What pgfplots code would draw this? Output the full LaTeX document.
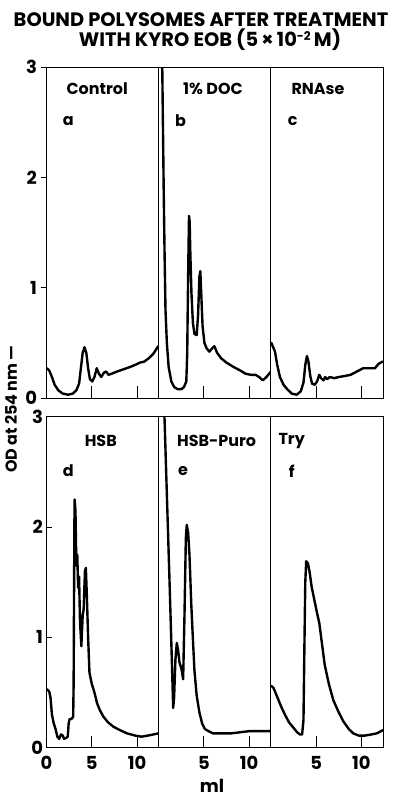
\documentclass[border=0pt]{standalone}
\usepackage{fontspec}
\setmainfont{Poppins}
\usepackage{pgfplots}
\pgfplotsset{compat=1.18}
\newcommand{\lf}{\bfseries\fontsize{16}{17}\selectfont}
\newcommand{\tf}{\bfseries\fontsize{18}{20}\selectfont}
\newcommand{\ttl}{\bfseries\fontsize{19.5}{21}\selectfont}
\newcommand{\yf}{\bfseries\fontsize{16}{18}\selectfont}
\tikzset{curve/.style={black, line width=2.4pt, line join=round, line cap=round}}
\pgfplotsset{
  panel/.style={
    scale only axis, width=112.2bp, height=331bp,
    xmin=0, xmax=12.4, ymin=0, ymax=3,
    axis line style={line width=0.9pt, black},
    xtick={5,10}, xticklabels={}, xtick pos=bottom, tick align=inside,
    major tick length=12bp, ytick=\empty,
    tick style={line width=0.9pt, black},
    anchor=north west,
    /pgf/number format/assume math mode=true,
    tick label style={font=\tf},
    xticklabel style={yshift=-5bp},
    no markers,
  },
  yax/.style={
    scale only axis, width=112.2bp, height=331bp,
    xmin=0, xmax=12.4, ymin=0, ymax=3,
    axis line style={line width=0.9pt, black},
    xtick=\empty, ytick={0,1,2,3}, ytick pos=left,
    major tick length=6bp,
    tick style={line width=0.9pt, black},
    anchor=north west,
    /pgf/number format/assume math mode=true,
    tick label style={font=\tf},
  },
}
\begin{document}
\begin{tikzpicture}
\useasboundingbox (0,0) rectangle (396bp,-798bp);
\node[font=\ttl, anchor=base, inner sep=0pt] at (201bp,-26bp) {BOUND POLYSOMES AFTER TREATMENT};
\node[font=\ttl, anchor=base, inner sep=0pt] at (210bp,-46bp) {WITH KYRO EOB (5\,×\,10\raisebox{5.5bp}{\fontsize{12}{12}\selectfont -2}\,M)};
\node[font=\yf, rotate=90] at (11bp,-409bp) {OD at 254 nm —};
\node[font=\tf, anchor=base, inner sep=0pt] at (212bp,-792bp) {ml};

% ---- top row ----
\begin{axis}[yax, at={(46.5bp,-67bp)}, tick align=outside]
\end{axis}
\begin{axis}[panel, at={(46.5bp,-67bp)}]
\addplot[curve] coordinates {(0.05,0.27)(0.3,0.25)(0.6,0.19)(0.9,0.12)(1.3,0.07)(1.8,0.04)(2.4,0.03)(2.9,0.04)(3.3,0.07)(3.6,0.13)(3.8,0.27)(4.0,0.41)(4.2,0.46)(4.4,0.41)(4.6,0.27)(4.8,0.17)(5.05,0.15)(5.3,0.19)(5.55,0.27)(5.8,0.22)(6.05,0.19)(6.35,0.23)(6.6,0.24)(6.85,0.21)(7.2,0.22)(7.8,0.24)(8.5,0.26)(9.2,0.28)(9.8,0.30)(10.3,0.32)(10.8,0.33)(11.3,0.36)(11.8,0.40)(12.35,0.47)};
\node[font=\lf] at (axis cs:5.6,2.8) {Control};
\node[font=\lf] at (axis cs:2.4,2.51) {a};
\end{axis}
\begin{axis}[panel, at={(158.7bp,-67bp)}]
\addplot[curve] coordinates {(0.35,3.3)(0.45,2.6)(0.55,1.9)(0.65,1.3)(0.75,0.8)(0.9,0.5)(1.1,0.28)(1.4,0.15)(1.7,0.10)(2.1,0.08)(2.5,0.08)(2.8,0.10)(3.05,0.15)(3.15,0.4)(3.25,1.1)(3.35,1.65)(3.42,1.6)(3.5,1.3)(3.62,0.95)(3.78,0.68)(3.95,0.58)(4.2,0.57)(4.35,0.75)(4.5,1.1)(4.6,1.15)(4.7,0.95)(4.85,0.65)(5.05,0.5)(5.3,0.45)(5.6,0.42)(5.9,0.45)(6.15,0.47)(6.45,0.41)(6.9,0.36)(7.5,0.32)(8.3,0.28)(9.0,0.25)(9.6,0.22)(10.2,0.21)(10.7,0.21)(11.1,0.19)(11.5,0.16)(11.9,0.19)(12.4,0.24)};
\node[font=\lf] at (axis cs:6.0,2.8) {1\% DOC};
\node[font=\lf] at (axis cs:2.4,2.51) {b};
\end{axis}
\begin{axis}[panel, at={(270.9bp,-67bp)}]
\addplot[curve] coordinates {(0.05,0.50)(0.25,0.46)(0.45,0.42)(0.7,0.30)(1.0,0.19)(1.4,0.12)(1.8,0.08)(2.3,0.04)(2.85,0.03)(3.3,0.06)(3.6,0.14)(3.8,0.30)(3.98,0.38)(4.15,0.33)(4.35,0.20)(4.55,0.13)(4.85,0.12)(5.1,0.15)(5.35,0.21)(5.55,0.18)(5.8,0.16)(6.0,0.19)(6.2,0.17)(6.5,0.19)(7.0,0.18)(7.5,0.19)(8.2,0.20)(8.8,0.21)(9.5,0.24)(10.2,0.27)(10.8,0.27)(11.5,0.27)(11.9,0.31)(12.35,0.33)};
\node[font=\lf] at (axis cs:5.2,2.8) {RNAse};
\node[font=\lf] at (axis cs:2.4,2.51) {c};
\end{axis}

% ---- bottom row ----
\begin{axis}[yax, at={(46.5bp,-416.7bp)}, tick align=inside]
\end{axis}
\begin{axis}[panel, at={(46.5bp,-416.7bp)}, xtick={0,5,10}, xticklabels={0,5,10}]
\addplot[curve] coordinates {(0.05,0.53)(0.3,0.51)(0.45,0.45)(0.6,0.30)(0.8,0.22)(1.0,0.17)(1.2,0.10)(1.4,0.08)(1.6,0.12)(1.8,0.11)(1.95,0.08)(2.2,0.09)(2.35,0.10)(2.45,0.22)(2.55,0.26)(2.75,0.26)(2.95,0.28)(3.0,0.6)(3.05,1.5)(3.1,2.25)(3.2,2.15)(3.3,1.65)(3.4,1.75)(3.5,1.45)(3.6,1.55)(3.7,1.15)(3.85,0.92)(4.0,1.2)(4.1,1.25)(4.25,1.6)(4.35,1.63)(4.45,1.4)(4.6,1.0)(4.75,0.68)(5.0,0.58)(5.3,0.5)(5.6,0.40)(5.9,0.34)(6.3,0.28)(6.8,0.23)(7.4,0.19)(8.1,0.16)(8.9,0.13)(9.8,0.11)(10.5,0.10)(11.2,0.11)(11.8,0.12)(12.35,0.13)};
\node[font=\lf] at (axis cs:6.0,2.78) {HSB};
\node[font=\lf] at (axis cs:2.4,2.51) {d};
\end{axis}
\begin{axis}[panel, at={(158.7bp,-416.7bp)}, xticklabels={5,10}]
\addplot[curve] coordinates {(0.6,3.1)(0.9,2.3)(1.2,1.5)(1.45,0.8)(1.6,0.36)(1.7,0.45)(1.85,0.80)(2.0,0.95)(2.15,0.88)(2.3,0.77)(2.5,0.72)(2.7,0.62)(2.85,1.2)(3.0,1.9)(3.1,2.02)(3.25,1.95)(3.4,1.75)(3.6,1.3)(3.8,0.95)(3.95,0.7)(4.2,0.47)(4.5,0.32)(4.8,0.22)(5.1,0.17)(5.5,0.15)(6.0,0.13)(7.0,0.13)(8.0,0.13)(9.0,0.14)(10.0,0.15)(11.0,0.15)(12.4,0.15)};
\node[font=\lf] at (axis cs:6.4,2.78) {HSB-Puro};
\node[font=\lf] at (axis cs:2.7,2.51) {e};
\end{axis}
\begin{axis}[panel, at={(270.9bp,-416.7bp)}, xticklabels={5,10}]
\addplot[curve] coordinates {(0.05,0.56)(0.3,0.54)(0.6,0.48)(0.9,0.42)(1.2,0.36)(1.55,0.30)(2.0,0.23)(2.5,0.18)(2.9,0.14)(3.2,0.12)(3.45,0.12)(3.6,0.25)(3.7,0.9)(3.8,1.5)(3.9,1.69)(4.1,1.67)(4.3,1.58)(4.5,1.46)(4.8,1.34)(5.1,1.22)(5.35,1.13)(5.6,0.97)(5.95,0.75)(6.4,0.58)(6.9,0.43)(7.5,0.32)(8.0,0.24)(8.6,0.17)(9.1,0.13)(9.7,0.11)(10.4,0.11)(11.1,0.12)(11.7,0.13)(12.4,0.16)};
\node[font=\lf] at (axis cs:2.3,2.78) {Try};
\node[font=\lf] at (axis cs:2.3,2.51) {f};
\end{axis}
\end{tikzpicture}
\end{document}
